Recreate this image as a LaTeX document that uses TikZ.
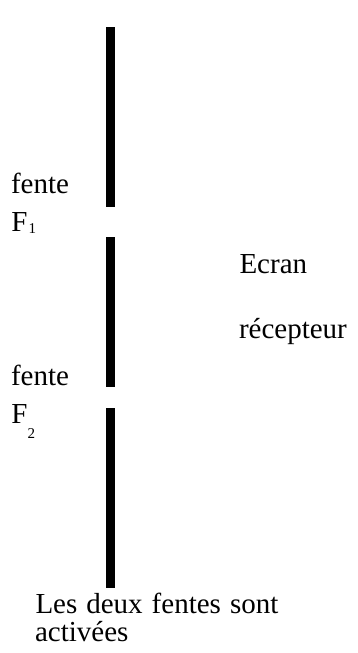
\documentclass[tikz,border=0pt]{standalone}
\usepackage{fontspec}
\setmainfont{Liberation Serif}
\newcommand\myspacing{\spaceskip 9pt\relax}
\begin{document}
\begin{tikzpicture}[x=1pt,y=-1pt,
  lbl/.style={anchor=base west,inner sep=0pt,outer sep=0pt,font={\fontsize{29}{33}\selectfont\myspacing}},
  sub/.style={anchor=base west,inner sep=0pt,outer sep=0pt,font={\fontsize{15}{17}\selectfont}},
  bar/.style={fill=black}]
\useasboundingbox (0,0) rectangle (358,653);
\fill[bar] (106,27) rectangle (115,207);
\fill[bar] (106,237) rectangle (115,387);
\fill[bar] (106,408) rectangle (115,588);
\node[lbl] (f1) at (11,193) {fente};
\node[lbl] (F1) at (11.5,231) {F};
\node[sub] (s1) at (28.5,233.5) {1};
\node[lbl] (ecran) at (239.5,273) {Ecran};
\node[lbl] (recep) at (239,338) {récepteur};
\node[lbl] (f2) at (11,385) {fente};
\node[lbl] (F2) at (11.5,423) {F};
\node[sub] (s2) at (27.5,438) {2};
\node[lbl] (les) at (35.5,613) {Les deux fentes sont};
\node[lbl] (act) at (35,641) {activées};
\end{tikzpicture}
\end{document}
